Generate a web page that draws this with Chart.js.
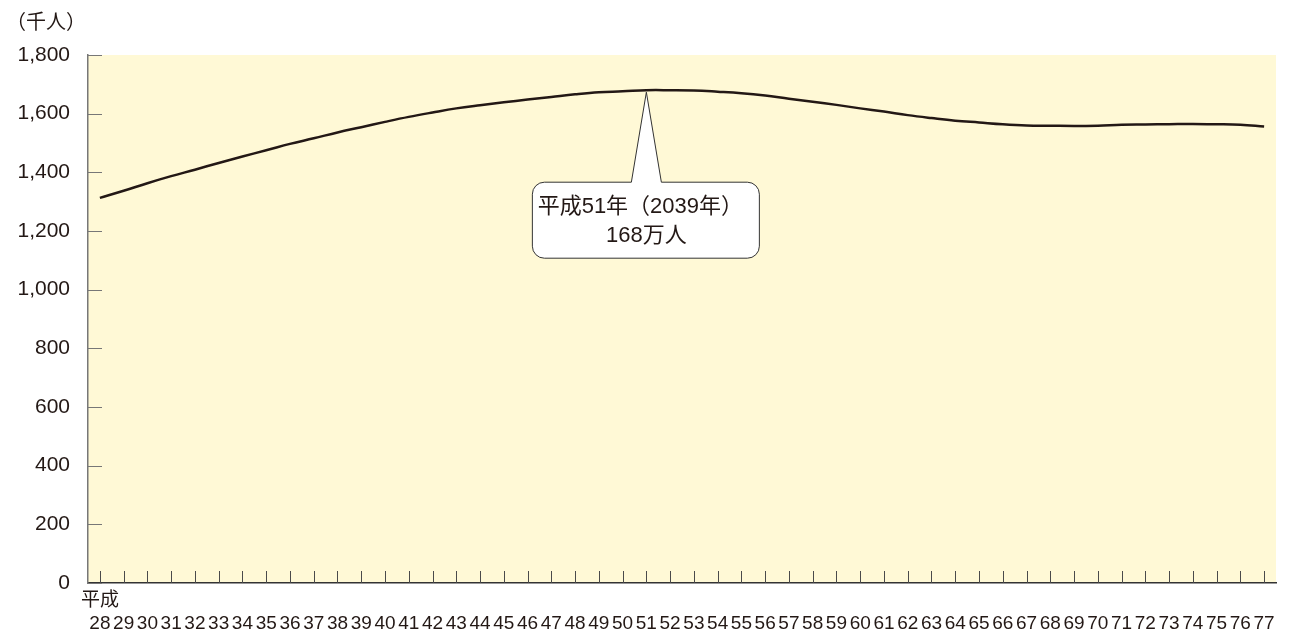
<!DOCTYPE html>
<html>
<head>
<meta charset="utf-8">
<script src="https://cdn.jsdelivr.net/npm/chart.js@4/dist/chart.umd.min.js"></script>
<style>
  html, body { margin: 0; padding: 0; background: #ffffff; }
  #wrap { width: 1290px; height: 637px; position: relative; }
</style>
</head>
<body>
<div id="wrap"><canvas id="c"></canvas></div>
<script>
// ---- data ----
const years = ['28','29','30','31','32','33','34','35','36','37','38','39','40','41','42','43','44','45','46','47','48','49','50','51','52','53','54','55','56','57','58','59','60','61','62','63','64','65','66','67','68','69','70','71','72','73','74','75','76','77'];
const eraLabel = '平成';
const population = [1313,1337,1363,1387,1409,1432,1454,1475,1497,1516,1536,1554,1572,1589,1604,1618,1629,1639,1648,1657,1666,1673,1676,1680,1680,1679,1675,1670,1662,1651,1641,1630,1618,1607,1595,1585,1576,1570,1564,1560,1559,1558,1559,1562,1563,1564,1565,1564,1562,1556];
const yTicks = [0,200,400,600,800,1000,1200,1400,1600,1800];
const unitLabel = '（千人）';
const calloutIndex = 23;
const calloutLines = ['平成51年（2039年）', '168万人'];

const FONT = "'Liberation Sans', Arial, 'Noto Sans CJK JP', sans-serif";
const NARROW = "'Liberation Sans Narrow', 'Arial Narrow', 'Liberation Sans', 'Noto Sans CJK JP', sans-serif";
const TEXT = '#231815';

const bgPlugin = {
  id: 'bg',
  beforeDraw(chart) {
    const { ctx, chartArea: a } = chart;
    ctx.save();
    ctx.fillStyle = '#FFF9D6';
    ctx.fillRect(a.left, a.top, a.right - a.left, a.bottom - a.top);
    ctx.restore();
  }
};

const decoPlugin = {
  id: 'deco',
  afterDraw(chart) {
    const { ctx, chartArea: a, scales } = chart;
    ctx.save();
    // x tick marks (inside, upward)
    ctx.strokeStyle = '#4a4a4a';
    ctx.lineWidth = 1;
    years.forEach((y, i) => {
      const x = Math.round(scales.x.getPixelForValue(i)) + 0.5;
      ctx.beginPath();
      ctx.moveTo(x, a.bottom);
      ctx.lineTo(x, a.bottom - 12);
      ctx.stroke();
    });
    // y tick marks (inside, rightward)
    ctx.strokeStyle = '#777';
    yTicks.forEach(v => {
      const y = Math.round(scales.y.getPixelForValue(v)) + 0.5;
      ctx.beginPath();
      ctx.moveTo(a.left, y);
      ctx.lineTo(a.left + 14, y);
      ctx.stroke();
    });
    // unit label
    ctx.fillStyle = TEXT;
    ctx.font = "20px 'Noto Sans CJK JP', " + FONT;
    ctx.textAlign = 'left';
    ctx.textBaseline = 'middle';
    ctx.fillText(unitLabel, 6, 21);

    // callout
    const meta = chart.getDatasetMeta(0);
    const pt = meta.data[calloutIndex];
    const px = pt.x, py = pt.y;
    const L = px - 114, R = px + 113, T = py + 92, B = py + 168, r = 12;
    ctx.beginPath();
    ctx.moveTo(L + r, T);
    ctx.lineTo(px - 15, T);
    ctx.lineTo(px, py + 2);
    ctx.lineTo(px + 15, T);
    ctx.lineTo(R - r, T);
    ctx.arcTo(R, T, R, T + r, r);
    ctx.lineTo(R, B - r);
    ctx.arcTo(R, B, R - r, B, r);
    ctx.lineTo(L + r, B);
    ctx.arcTo(L, B, L, B - r, r);
    ctx.lineTo(L, T + r);
    ctx.arcTo(L, T, L + r, T, r);
    ctx.closePath();
    ctx.fillStyle = '#ffffff';
    ctx.fill();
    ctx.strokeStyle = '#333';
    ctx.lineWidth = 1;
    ctx.stroke();
    ctx.fillStyle = TEXT;
    ctx.font = "22px " + FONT;
    ctx.textAlign = 'center';
    ctx.fillText(calloutLines[0], px - 6, py + 117);
    ctx.fillText(calloutLines[1], px, py + 146);
    ctx.restore();
  }
};

new Chart(document.getElementById('c'), {
  type: 'line',
  data: {
    labels: years,
    datasets: [{
      data: population,
      borderColor: '#231815',
      borderWidth: 2.5,
      pointRadius: 0,
      tension: 0.4,
      fill: false
    }]
  },
  options: {
    responsive: true,
    maintainAspectRatio: false,
    animation: false,
    layout: { padding: { left: 0, right: 14, top: 55, bottom: 0 } },
    plugins: { legend: { display: false }, tooltip: { enabled: false } },
    scales: {
      x: {
        offset: true,
        grid: { display: false, drawTicks: false },
        border: { display: true, color: '#333', width: 1.5 },
        ticks: {
          autoSkip: false,
          maxRotation: 0,
          minRotation: 0,
          padding: 7,
          color: TEXT,
          font: { family: NARROW, size: 19, lineHeight: 1.17 },
          callback: function(v, i) { return [i === 0 ? eraLabel : '', years[i]]; }
        },
        afterFit(s) { s.height = 54; }
      },
      y: {
        min: 0,
        max: 1800,
        grid: { display: false, drawTicks: false },
        border: { display: true, color: '#777', width: 1.5 },
        ticks: {
          stepSize: 200,
          padding: 18,
          color: TEXT,
          font: { family: FONT, size: 21 },
          callback: v => v.toLocaleString('en-US')
        },
        afterFit(s) { s.width = 88; }
      }
    }
  },
  plugins: [bgPlugin, decoPlugin]
});
</script>
</body>
</html>
